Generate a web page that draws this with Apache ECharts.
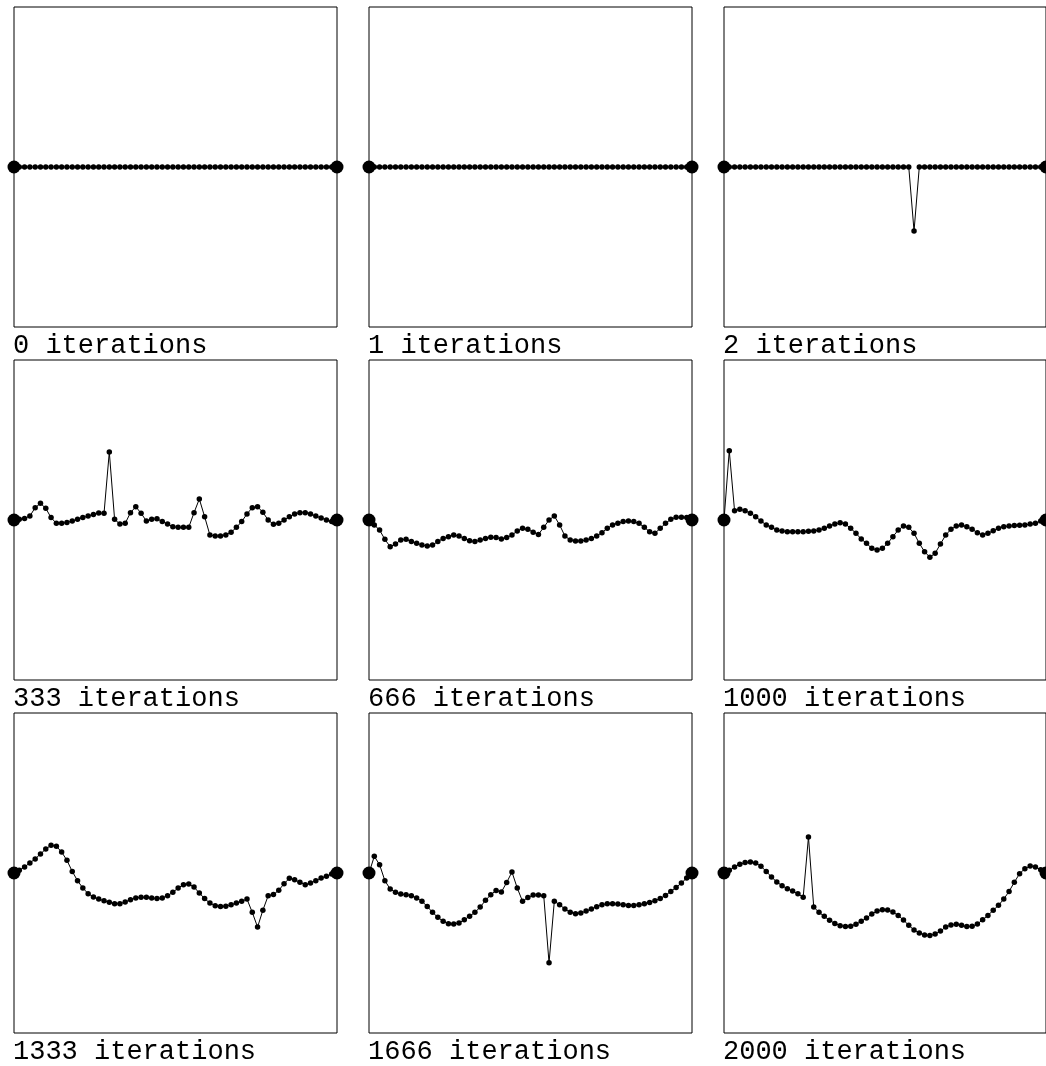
<!DOCTYPE html>
<html>
<head>
<meta charset="utf-8">
<script src="https://cdn.jsdelivr.net/npm/echarts@6/dist/echarts.min.js"></script>
<style>
  html, body { margin: 0; padding: 0; background: #fff; }
  #chart { width: 1046px; height: 1066px; }
</style>
</head>
<body>
<div id="chart"></div>
<script>
// panel titles, in reading order
const panelLabels = [
  '0 iterations', '1 iterations', '2 iterations',
  '333 iterations', '666 iterations', '1000 iterations',
  '1333 iterations', '1666 iterations', '2000 iterations'
]

// displacement of the 62 nodes after n iterations
const iter0 = [0, 0, 0, 0, 0, 0, 0, 0, 0, 0, 0, 0, 0, 0, 0, 0, 0, 0, 0, 0, 0, 0, 0, 0, 0, 0, 0, 0, 0, 0, 0,
  0, 0, 0, 0, 0, 0, 0, 0, 0, 0, 0, 0, 0, 0, 0, 0, 0, 0, 0, 0, 0, 0, 0, 0, 0, 0, 0, 0, 0, 0, 0]
const iter1 = [0, 0, 0, 0, 0, 0, 0, 0, 0, 0, 0, 0, 0, 0, 0, 0, 0, 0, 0, 0, 0, 0, 0, 0, 0, 0, 0, 0, 0, 0, 0,
  0, 0, 0, 0, 0, 0, 0, 0, 0, 0, 0, 0, 0, 0, 0, 0, 0, 0, 0, 0, 0, 0, 0, 0, 0, 0, 0, 0, 0, 0, 0]
const iter2 = [0, 0, 0, 0, 0, 0, 0, 0, 0, 0, 0, 0, 0, 0, 0, 0, 0, 0, 0, 0, 0, 0, 0, 0, 0, 0, 0, 0, 0, 0, 0,
  0, 0, 0, 0, 0, -0.4, 0, 0, 0, 0, 0, 0, 0, 0, 0, 0, 0, 0, 0, 0, 0, 0, 0, 0, 0, 0, 0, 0, 0, 0, 0]
const iter333 = [0, 0.004, 0.010, 0.025, 0.077, 0.104, 0.073, 0.015, -0.021, -0.021,
  -0.015, -0.006, 0.004, 0.015, 0.025, 0.035, 0.044, 0.042, 0.425, 0.004,
  -0.025, -0.021, 0.046, 0.083, 0.042, -0.006, 0.004, 0.008, -0.010, -0.025,
  -0.042, -0.046, -0.046, -0.046, 0.046, 0.131, 0.021, -0.094, -0.100, -0.100,
  -0.094, -0.077, -0.046, -0.010, 0.038, 0.077, 0.083, 0.048, 0, -0.027,
  -0.021, 0, 0.021, 0.038, 0.046, 0.046, 0.038, 0.025, 0.013, 0,
  -0.010, 0]
const iter666 = [0, -0.031, -0.063, -0.121, -0.167, -0.150, -0.125, -0.121, -0.135, -0.146,
  -0.156, -0.163, -0.156, -0.135, -0.115, -0.104, -0.094, -0.100, -0.115, -0.129,
  -0.135, -0.125, -0.115, -0.108, -0.110, -0.119, -0.110, -0.094, -0.069, -0.052,
  -0.058, -0.077, -0.090, -0.046, 0, 0.025, -0.031, -0.100, -0.125, -0.131,
  -0.131, -0.125, -0.115, -0.100, -0.079, -0.052, -0.031, -0.021, -0.010, -0.006,
  -0.010, -0.021, -0.046, -0.073, -0.083, -0.052, -0.021, 0.004, 0.017, 0.017,
  0.015, 0]
const iter1000 = [0, 0.433, 0.058, 0.067, 0.058, 0.042, 0.021, -0.006, -0.031, -0.046,
  -0.063, -0.069, -0.073, -0.073, -0.073, -0.073, -0.071, -0.069, -0.063, -0.052,
  -0.038, -0.025, -0.017, -0.025, -0.052, -0.083, -0.119, -0.146, -0.177, -0.188,
  -0.177, -0.146, -0.104, -0.063, -0.038, -0.046, -0.083, -0.146, -0.198, -0.233,
  -0.208, -0.150, -0.094, -0.058, -0.038, -0.031, -0.042, -0.058, -0.079, -0.094,
  -0.083, -0.067, -0.052, -0.042, -0.038, -0.035, -0.033, -0.031, -0.025, -0.021,
  -0.006, 0]
const iter1333 = [0, 0.017, 0.038, 0.063, 0.088, 0.119, 0.150, 0.173, 0.167, 0.131,
  0.079, 0.010, -0.048, -0.094, -0.129, -0.150, -0.163, -0.173, -0.183, -0.192,
  -0.192, -0.181, -0.167, -0.156, -0.152, -0.152, -0.156, -0.160, -0.156, -0.142,
  -0.121, -0.094, -0.073, -0.069, -0.088, -0.125, -0.160, -0.188, -0.204, -0.210,
  -0.208, -0.198, -0.188, -0.177, -0.163, -0.246, -0.338, -0.233, -0.142, -0.135,
  -0.108, -0.067, -0.033, -0.042, -0.058, -0.073, -0.063, -0.048, -0.031, -0.021,
  -0.006, 0]
const iter1666 = [0, 0.104, 0.052, -0.048, -0.100, -0.121, -0.131, -0.136, -0.142, -0.156,
  -0.177, -0.209, -0.246, -0.277, -0.302, -0.317, -0.319, -0.313, -0.292, -0.271,
  -0.246, -0.213, -0.171, -0.136, -0.109, -0.119, -0.059, 0.006, -0.094, -0.177,
  -0.153, -0.138, -0.138, -0.142, -0.561, -0.177, -0.198, -0.225, -0.246, -0.254,
  -0.250, -0.238, -0.225, -0.211, -0.198, -0.192, -0.192, -0.194, -0.198, -0.203,
  -0.203, -0.198, -0.192, -0.184, -0.173, -0.159, -0.140, -0.115, -0.090, -0.063,
  -0.031, 0]
const iter2000 = [0, 0.017, 0.038, 0.054, 0.065, 0.069, 0.063, 0.042, 0.010, -0.025,
  -0.056, -0.079, -0.098, -0.113, -0.129, -0.152, 0.225, -0.213, -0.246, -0.271,
  -0.296, -0.315, -0.329, -0.335, -0.333, -0.321, -0.302, -0.281, -0.256, -0.238,
  -0.229, -0.231, -0.244, -0.265, -0.294, -0.327, -0.356, -0.375, -0.388, -0.390,
  -0.381, -0.363, -0.338, -0.325, -0.321, -0.327, -0.335, -0.333, -0.319, -0.292,
  -0.265, -0.233, -0.202, -0.163, -0.115, -0.058, -0.004, 0.027, 0.044, 0.038,
  0.021, 0]

const panelData = [iter0, iter1, iter2, iter333, iter666, iter1000, iter1333, iter1666, iter2000]

const nodeCount = iter0.length
const nodes = Array.from({ length: nodeCount }, (_, i) => i)

const colLeft = [14, 369, 724]
const rowTop = [7, 360, 713]
const boxW = 323
const boxH = 320

const grid = []
const xAxis = []
const yAxis = []
const series = []
const graphic = []

panelData.forEach((vals, k) => {
  const r = Math.floor(k / 3)
  const c = k % 3
  grid.push({
    left: colLeft[c],
    top: rowTop[r],
    width: boxW,
    height: boxH,
    show: true,
    borderColor: '#000',
    borderWidth: 1,
    backgroundColor: 'transparent',
  })
  xAxis.push({
    gridIndex: k,
    type: 'category',
    data: nodes,
    boundaryGap: false,
    show: false,
  })
  yAxis.push({
    gridIndex: k,
    type: 'value',
    min: -1,
    max: 1,
    show: false,
  })
  series.push({
    type: 'line',
    xAxisIndex: k,
    yAxisIndex: k,
    data: vals,
    symbol: 'circle',
    // end nodes are drawn bigger
    symbolSize: (v, p) => (p.dataIndex === 0 || p.dataIndex === nodeCount - 1 ? 13 : 5.5),
    showAllSymbol: true,
    lineStyle: { color: '#000', width: 1 },
    itemStyle: { color: '#000' },
    clip: false,
  })
  graphic.push({
    type: 'text',
    x: colLeft[c] - 1,
    y: rowTop[r] + boxH + 19,
    style: {
      text: panelLabels[k],
      font: '27px "Liberation Mono", "Courier New", monospace',
      fill: '#000',
      textAlign: 'left',
      textVerticalAlign: 'middle',
    },
  })
})

const chart = echarts.init(document.getElementById('chart'))
chart.setOption({
  animation: false,
  backgroundColor: '#fff',
  grid,
  xAxis,
  yAxis,
  series,
  graphic,
})
</script>
</body>
</html>
